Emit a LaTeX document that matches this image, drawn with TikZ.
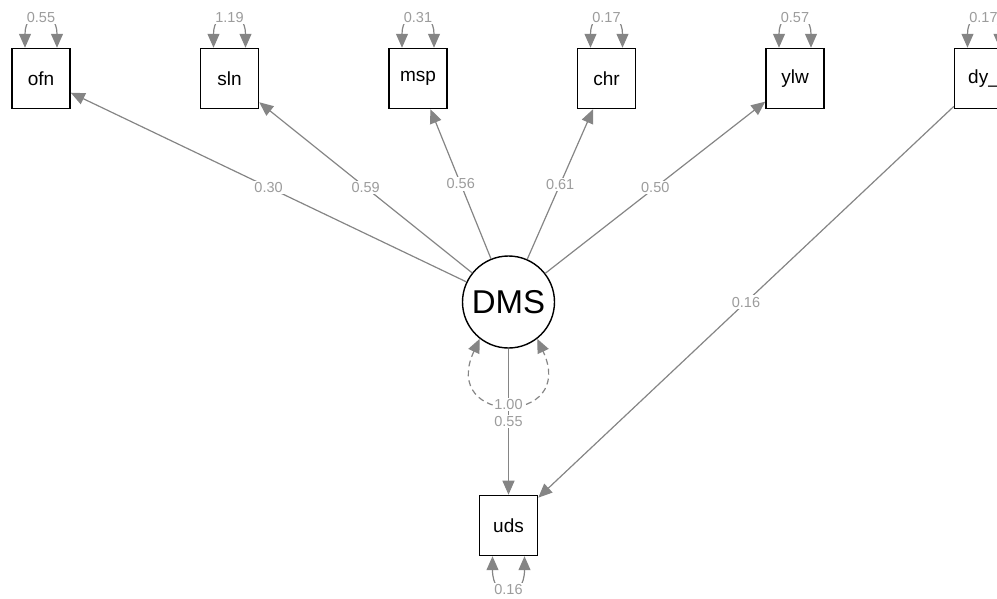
\documentclass[tikz,border=0pt]{standalone}
\usepackage{fontspec}
\setmainfont{Liberation Sans}
\usetikzlibrary{arrows.meta,positioning}
\definecolor{pathgray}{HTML}{858585}
\definecolor{labgray}{HTML}{9C9C9C}

\begin{document}
\begin{tikzpicture}[
  x=1pt, y=-1pt,
  node distance=129pt,
  >={Triangle[length=14pt,width=12pt]},
  manifest/.style={draw, line width=1.5pt, minimum width=58pt, minimum height=60pt, inner sep=0pt, font=\fontsize{19}{21}\selectfont},
  latent/.style={draw, circle, line width=1.4pt, minimum size=92pt, inner sep=0pt, font=\fontsize{33}{37}\selectfont},
  coef/.style={fill=white, inner sep=1.5pt, text=labgray, font=\fontsize{14.5}{16}\selectfont},
  edge/.style={->, draw=pathgray, line width=1.2pt},
  varloop/.style={<->, draw=pathgray, line width=1.2pt}
]
\useasboundingbox (0,0) rectangle (997,598);

% indicators
\node[manifest] (ofn) at (41,78.5) {ofn};
\node[manifest, right=of ofn] (sln) {sln};
\node[manifest, right=of sln] (msp) {msp};
\node[manifest, right=of msp] (chr) {chr};
\node[manifest, right=of chr] (ylw) {ylw};
\node[manifest, right=of ylw] (dy) {dy\_};

% factor and outcome
\node[latent] (DMS) at (508.5,302) {DMS};
\node[manifest, below=146pt of DMS] (uds) {uds};

% loadings
\draw[edge] (DMS) -- node[coef] {0.30} (ofn);
\draw[edge] (DMS) -- node[coef] {0.59} (sln);
\draw[edge] (DMS) -- node[coef] {0.56} (msp);
\draw[edge] (DMS) -- node[coef] {0.61} (chr);
\draw[edge] (DMS) -- node[coef] {0.50} (ylw);
\draw[edge] (DMS) -- node[coef] {0.55} (uds);
\draw[edge] (dy) -- node[coef] {0.16} (uds);

% variances
\draw[varloop] ([xshift=-16pt]ofn.north) to[out=90,in=90,looseness=3.2] node[coef] {0.55} ([xshift=16pt]ofn.north);
\draw[varloop] ([xshift=-16pt]sln.north) to[out=90,in=90,looseness=3.2] node[coef] {1.19} ([xshift=16pt]sln.north);
\draw[varloop] ([xshift=-16pt]msp.north) to[out=90,in=90,looseness=3.2] node[coef] {0.31} ([xshift=16pt]msp.north);
\draw[varloop] ([xshift=-16pt]chr.north) to[out=90,in=90,looseness=3.2] node[coef] {0.17} ([xshift=16pt]chr.north);
\draw[varloop] ([xshift=-16pt]ylw.north) to[out=90,in=90,looseness=3.2] node[coef] {0.57} ([xshift=16pt]ylw.north);
\draw[varloop] ([xshift=-16pt]dy.north) to[out=90,in=90,looseness=3.2] node[coef] {0.17} ([xshift=16pt]dy.north);
\draw[varloop] ([xshift=-16pt]uds.south) to[out=-90,in=-90,looseness=3.6] node[coef] {0.16} ([xshift=16pt]uds.south);
\draw[varloop, dash pattern=on 6pt off 4pt] (DMS.232) to[out=245,in=295,looseness=4.3] node[coef] {1.00} (DMS.308);
\end{tikzpicture}
\end{document}
